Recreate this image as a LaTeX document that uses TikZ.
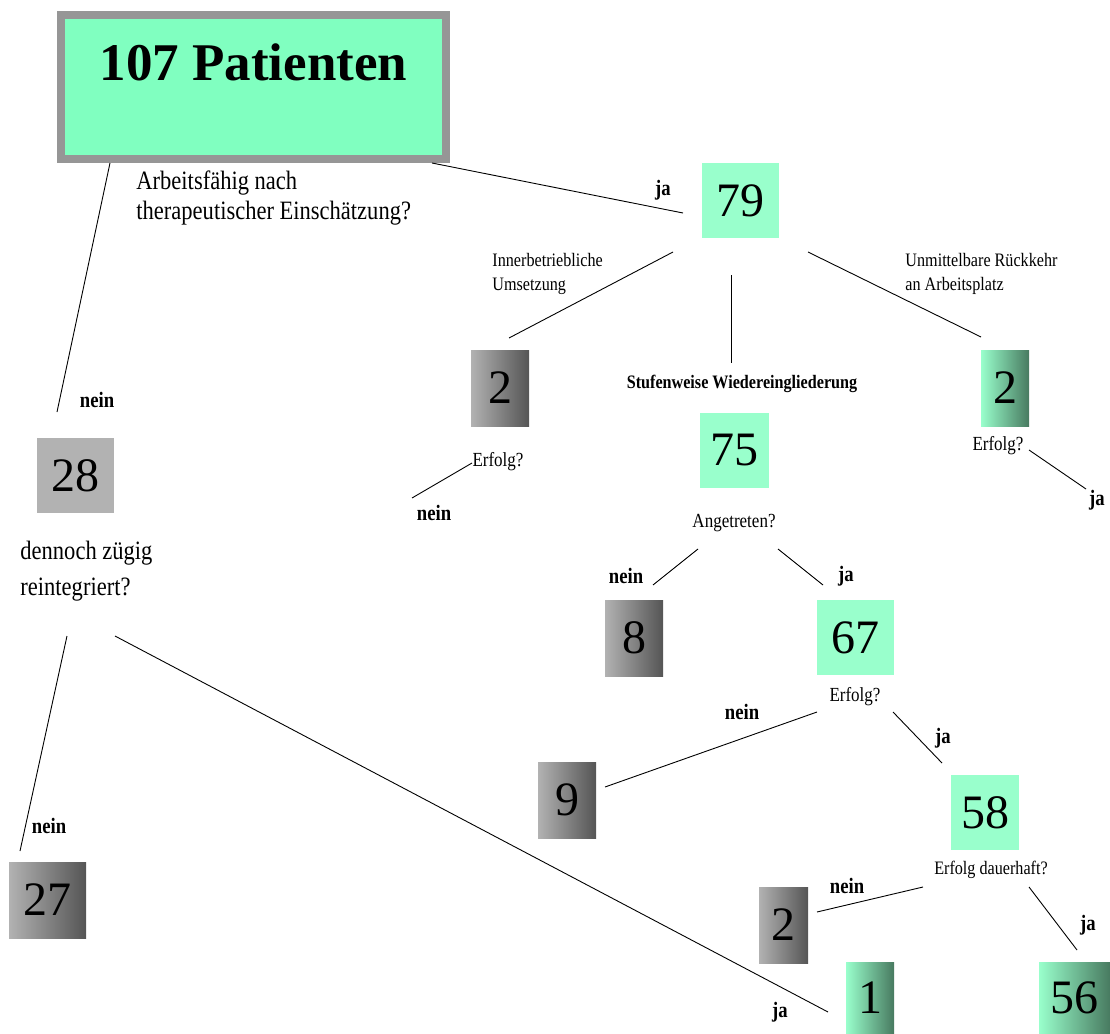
\documentclass[tikz,border=0pt]{standalone}
\usepackage{fontspec}
\setmainfont{Liberation Serif}[FakeStretch=0.85]
\newfontfamily\titelfont{Liberation Serif}
\usetikzlibrary{positioning}
\definecolor{titelgruen}{RGB}{128,255,192}
\definecolor{mint}{RGB}{153,255,204}
\definecolor{mintdunkel}{RGB}{72,122,96}
\definecolor{randgrau}{RGB}{150,150,150}
\definecolor{grauhell}{RGB}{178,178,178}
\definecolor{graudunkel}{RGB}{85,85,85}
\tikzstyle{zahl} = [minimum width=58pt, minimum height=76pt, inner sep=0pt, font=\titelfont\fontsize{48}{48}\selectfont]
\tikzstyle{gruen} = [zahl, fill=mint]
\tikzstyle{grau} = [zahl, fill=grauhell]
\tikzstyle{grauverlauf} = [zahl, left color=grauhell, right color=graudunkel]
\tikzstyle{gruenverlauf} = [zahl, left color=mint, right color=mintdunkel]
\tikzstyle{antwort} = [inner sep=0pt, font=\bfseries\fontsize{22}{22}\selectfont]
\tikzstyle{frage} = [inner sep=0pt, font=\fontsize{20}{24}\selectfont]
\tikzstyle{weg} = [inner sep=0pt, align=left, anchor=north west, font=\fontsize{19}{24}\selectfont]

\begin{document}
\begin{tikzpicture}[x=1pt,y=-1pt,line width=0.9pt]
            \useasboundingbox (0,0) rectangle (1110,1033);

            % Kopf
            \node[draw=randgrau, line width=8pt, fill=titelgruen, outer sep=0pt, anchor=north,
                minimum width=385pt, minimum height=144pt, inner ysep=27pt, text height=38pt, text depth=52pt,
                font=\titelfont\bfseries\fontsize{53}{53}\selectfont] (top) at (253.5,15) {107 Patienten};
            \node[inner sep=0pt, align=left, anchor=north west, font=\fontsize{26.5}{30}\selectfont]
                (arbeitsfaehig) at (136,170) {Arbeitsf\"ahig nach\\therapeutischer Einsch\"atzung?};

            % Kaesten
            \node[gruen, minimum width=77pt, minimum height=75pt] (n79) at (740,200.5) {79};
            \node[grau, minimum width=77pt, minimum height=75pt] (n28) at (75.5,475.5) {28};
            \node[grauverlauf] (n2a) at (500,388) {2};
            \node[gruenverlauf, minimum width=48pt] (n2b) at (1005,388) {2};
            \node[gruen, minimum width=69pt, minimum height=75pt] (n75) at (734.5,450.5) {75};
            \node[grauverlauf] (n8) at (634,638) {8};
            \node[gruen, minimum width=77pt, minimum height=75pt] (n67) at (855.5,637.5) {67};
            \node[grauverlauf] (n9) at (567,800) {9};
            \node[gruen, minimum width=68pt, minimum height=75pt] (n58) at (985,812.5) {58};
            \node[grauverlauf, minimum width=49pt] (n2c) at (783.5,925) {2};
            \node[gruenverlauf, minimum width=48pt, minimum height=71pt] (n1) at (870,997.5) {1};
            \node[gruenverlauf, minimum width=71pt, minimum height=71pt] (n56) at (1074.5,997.5) {56};
            \node[grauverlauf, minimum width=77pt] (n27) at (47.5,900) {27};

            % Fragen und Wege
            \node[weg] (innerbetr) at (492,253) {Innerbetriebliche\\Umsetzung};
            \node[weg] (rueckkehr) at (905,253) {Unmittelbare R\"uckkehr\\an Arbeitsplatz};
            \node[inner sep=0pt, font=\bfseries\fontsize{19}{19}\selectfont] (stufen) at (742,384) {Stufenweise Wiedereingliederung};
            \node[frage] (erfolgA) at (498,462) {Erfolg?};
            \node[frage] (erfolgB) at (998,446) {Erfolg?};
            \node[frage] (angetreten) at (734,523) {Angetreten?};
            \node[frage] (erfolgC) at (855,697) {Erfolg?};
            \node[frage, font=\fontsize{19}{24}\selectfont] (dauerhaft) at (991,870) {Erfolg dauerhaft?};
            \node[inner sep=0pt, align=left, anchor=north west, font=\fontsize{26.5}{36}\selectfont]
                (zuegig) at (20,541) {dennoch z\"ugig\\reintegriert?};

            % ja / nein
            \node[antwort] (ja1) at (663,190) {ja};
            \node[antwort] (nein1) at (97,400) {nein};
            \node[antwort] (nein2) at (434,513) {nein};
            \node[antwort] (ja2) at (1097,500) {ja};
            \node[antwort] (nein3) at (626,576) {nein};
            \node[antwort] (ja3) at (846,576) {ja};
            \node[antwort] (nein4) at (742,712) {nein};
            \node[antwort] (ja4) at (943,738) {ja};
            \node[antwort] (nein5) at (847,886) {nein};
            \node[antwort] (ja5) at (1088,925) {ja};
            \node[antwort] (nein6) at (49,826) {nein};
            \node[antwort] (ja6) at (780,1012) {ja};

            % Linienenden
            \coordinate (topL) at (110,163);   \coordinate (zu28) at (57,412);
            \coordinate (topR) at (432,163);   \coordinate (zu79) at (683,213);
            \coordinate (ab79L) at (673,252);  \coordinate (zu2a) at (509,338);
            \coordinate (ab79M) at (731,275);  \coordinate (zuStufen) at (731,363);
            \coordinate (ab79R) at (808,252);  \coordinate (zu2b) at (981,337);
            \coordinate (ab2a) at (472,463);   \coordinate (endNein2) at (412,498);
            \coordinate (ab2b) at (1029,450);  \coordinate (endJa2) at (1086,489);
            \coordinate (angL) at (698,549);   \coordinate (zu8) at (653,585);
            \coordinate (angR) at (778,549);   \coordinate (zu67) at (823,585);
            \coordinate (ab67L) at (817,712);  \coordinate (zu9) at (605,787);
            \coordinate (ab67R) at (893,712);  \coordinate (zu58) at (942,763);
            \coordinate (ab58L) at (923,887);  \coordinate (zu2c) at (817,912);
            \coordinate (ab58R) at (1029,887); \coordinate (zu56) at (1077,950);
            \coordinate (ab28L) at (67,636);   \coordinate (zu27) at (20,851);
            \coordinate (ab28R) at (115,636);  \coordinate (zu1) at (828,1012);

            \foreach \a/\b in {topL/zu28, topR/zu79, ab79L/zu2a, ab79M/zuStufen, ab79R/zu2b,
                ab2a/endNein2, ab2b/endJa2, angL/zu8, angR/zu67, ab67L/zu9, ab67R/zu58,
                ab58L/zu2c, ab58R/zu56, ab28L/zu27, ab28R/zu1}
                \draw (\a) -- (\b);
        \end{tikzpicture}
\end{document}
